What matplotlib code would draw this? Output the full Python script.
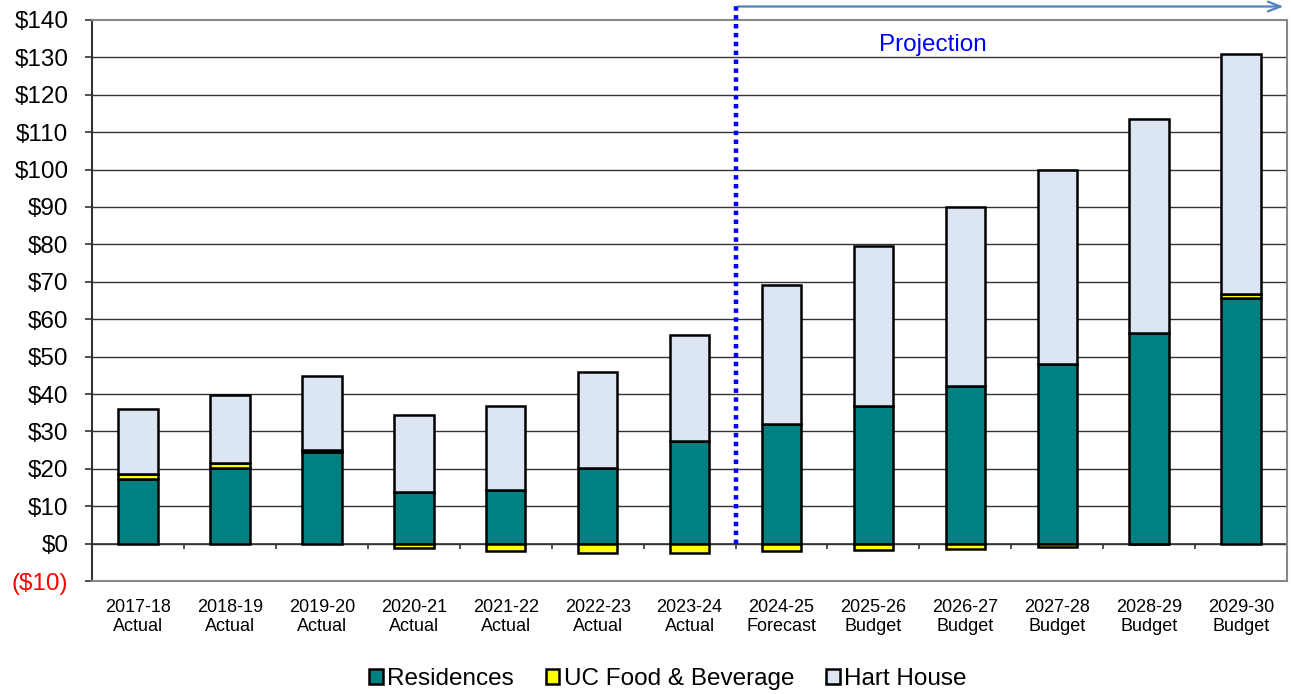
import numpy as np
import matplotlib
matplotlib.use("Agg")
import matplotlib.pyplot as plt
from matplotlib import font_manager

# --- data ($ millions) -------------------------------------------------------
years = ["2017-18", "2018-19", "2019-20", "2020-21", "2021-22", "2022-23", "2023-24",
         "2024-25", "2025-26", "2026-27", "2027-28", "2028-29", "2029-30"]
kinds = ["Actual"] * 7 + ["Forecast"] + ["Budget"] * 5
residences = [17.4, 20.1, 24.5, 13.7, 14.3, 20.3, 27.5, 32.1, 36.9, 42.1, 47.9, 56.2, 65.8]
uc_food = [1.2, 1.4, 0.5, -1.2, -2.0, -2.4, -2.4, -2.1, -1.7, -1.4, -0.9, -0.2, 0.9]
hart_house = [17.3, 18.3, 19.9, 20.8, 22.6, 25.7, 28.3, 37.1, 42.7, 47.9, 52.0, 57.3, 64.2]
y_ticks = list(range(-10, 141, 10))
# -----------------------------------------------------------------------------

names = {f.name for f in font_manager.fontManager.ttflist}
has_narrow = "Liberation Sans Narrow" in names
narrow = "Liberation Sans Narrow" if has_narrow else "Liberation Sans"
plt.rcParams["font.family"] = ["Liberation Sans", "DejaVu Sans"]

TEAL, YELLOW, LIGHT = "#008080", "#FFFF00", "#DCE6F2"

res = np.array(residences)
ucf = np.array(uc_food)
hh = np.array(hart_house)
x = np.arange(len(years))
w = 0.43

fig = plt.figure(figsize=(12.91, 6.94), dpi=100)
ax = fig.add_axes([0.0713, 0.1628, 0.9257, 0.8084])

for v in y_ticks[1:-1]:
    ax.axhline(v, color="#333333", lw=1.0, zorder=0)

edge = dict(edgecolor="black", linewidth=1.8, zorder=3)
ax.bar(x, res, w, color=TEAL, label="Residences", **edge)
ax.bar(x, ucf, w, bottom=np.where(ucf >= 0, res, 0), color=YELLOW,
       label="UC Food & Beverage", **edge)
ax.bar(x, hh, w, bottom=res + np.clip(ucf, 0, None), color=LIGHT,
       label="Hart House", **edge)

# category axis crossing at zero, ticks between categories
ax.axhline(0, color="#333333", lw=1.2, zorder=2)
ax.vlines(np.arange(0.5, len(years) - 0.5), -1.4, 0, color="#333333", lw=1.2, zorder=2)

ax.set_xlim(-0.5, len(years) - 0.5)
ax.set_ylim(-10, 140)
ax.set_yticks(y_ticks)
ax.set_yticklabels([f"(${-v})" if v < 0 else f"${v}" for v in y_ticks], fontsize=17.5)
ax.get_yticklabels()[0].set_color("red")
ax.tick_params(axis="y", length=5, width=1.2, pad=12, color="#333333")

ax.set_xticks(x)
ax.set_xticklabels([f"{y}\n{k}" for y, k in zip(years, kinds)],
                   fontsize=14 if has_narrow else 13, family=narrow, linespacing=1.15)
ax.tick_params(axis="x", length=0, pad=13)

for side in ["top", "right", "bottom"]:
    ax.spines[side].set_color("#888888")
    ax.spines[side].set_linewidth(1.5)
ax.spines["left"].set_color("#333333")
ax.spines["left"].set_linewidth(1.5)

# projection marker
ax.plot([6.5, 6.5], [0, 144], color="#0000FF", lw=3.2, linestyle=(0, (1, 1)),
        clip_on=False, zorder=4)
ax.annotate("", xy=(12.49, 143.6), xytext=(6.5, 143.6), annotation_clip=False,
            arrowprops=dict(arrowstyle="->,head_length=0.9,head_width=0.35",
                            color="#4F81BD", lw=1.6))
ax.text(8.65, 133.3, "Projection", color="#0000FF", fontsize=17.5, ha="center", va="center")

ax.legend(loc="center", bbox_to_anchor=(0.482, -0.175), ncol=3, frameon=False, fontsize=17.5,
          handlelength=0.55, handleheight=0.55, handletextpad=0.2, columnspacing=1.3)

fig.savefig("out.png", dpi=100)
